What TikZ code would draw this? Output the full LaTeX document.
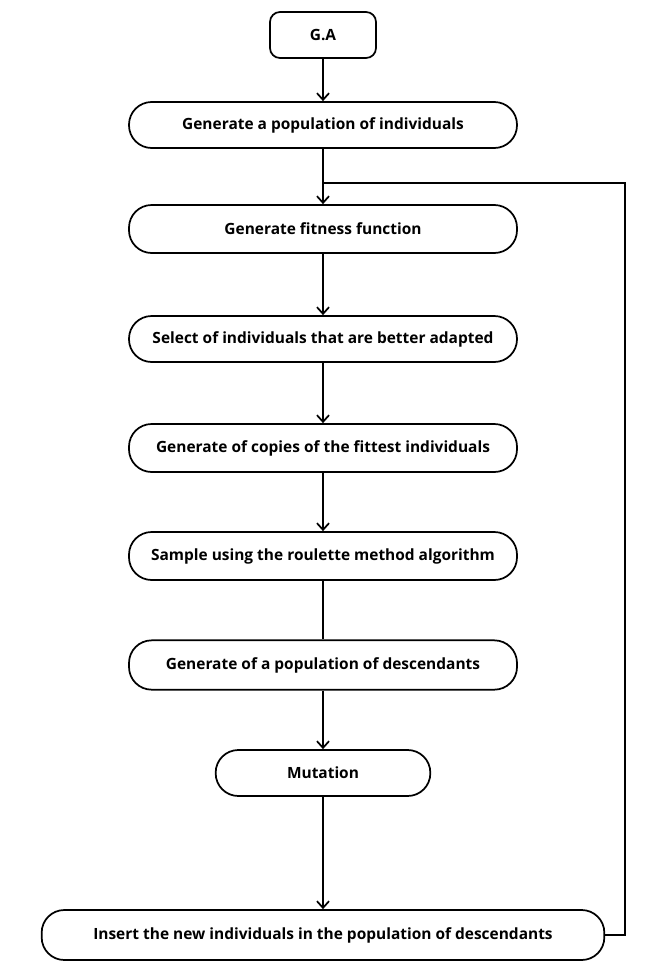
\documentclass[tikz,border=0pt]{standalone}
\usepackage{fontspec}
\setmainfont{Open Sans}
\usetikzlibrary{arrows.meta}

\begin{document}
\begin{tikzpicture}[x=0.75pt, y=-0.75pt, line width=1.3pt,
  main/.style = {draw, rounded corners=17pt, minimum height=34.5pt, minimum width=291pt, inner sep=2pt, font=\fontsize{11.6}{14}\selectfont\bfseries},
  flow/.style = {-{Straight Barb[length=5pt,width=9pt]}}]
\useasboundingbox (0,0) rectangle (657,971);
\def\cx{323}
\def\xback{625}
% the steps of the algorithm
\node[main, minimum width=79.5pt, rounded corners=7.5pt] (ga) at (\cx,35) {G.A};
\node[main] (pop) at (\cx,125) {Generate a population of individuals};
\node[main, minimum height=36pt] (fit) at (\cx,229) {Generate fitness function};
\node[main] (sel) at (\cx,339) {Select of individuals that are better adapted};
\node[main, minimum height=36pt] (copy) at (\cx,448) {Generate of copies of the fittest individuals};
\node[main, minimum height=36pt] (samp) at (\cx,556) {Sample using the roulette method algorithm};
\node[main, minimum height=37pt] (desc) at (\cx,665) {Generate of a population of descendants};
\node[main, minimum width=161pt] (mut) at (\cx,773) {Mutation};
\node[main, minimum width=422pt, minimum height=37.5pt] (ins) at (\cx,935) {Insert the new individuals in the population of descendants};
\coordinate (join) at (\cx,183);
\coordinate (back) at (\xback,183);
% connectors
\draw[flow] (ga) -- (pop);
\draw (pop) -- (join);
\draw[flow] (join) -- (fit);
\draw[flow] (fit) -- (sel);
\draw[flow] (sel) -- (copy);
\draw[flow] (copy) -- (samp);
\draw (samp) -- (desc);
\draw[flow] (desc) -- (mut);
\draw[flow] (mut) -- (ins);
% loop back to the fitness step
\draw (ins.east) -| (back) -- (join);
\end{tikzpicture}
\end{document}
